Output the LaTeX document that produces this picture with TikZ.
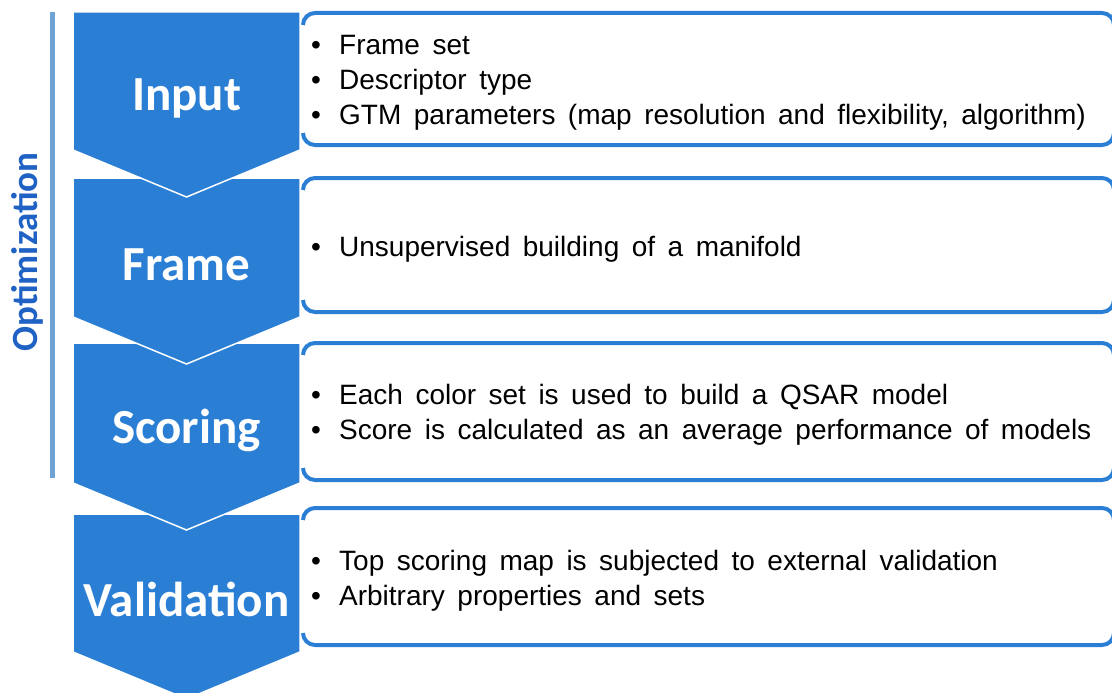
\documentclass[tikz,border=0pt]{standalone}
\usepackage{fontspec}
\setmainfont{Liberation Sans}
\newfontfamily\calibri{Carlito}
\usetikzlibrary{positioning}
\definecolor{chevblue}{HTML}{2A7FD5}
\definecolor{barblue}{HTML}{6FA3D6}
\definecolor{optblue}{HTML}{2062C4}
\newcommand{\itm}[1]{\makebox[28pt][l]{\textbullet}{\spaceskip=12.5pt\relax #1}}

\begin{document}
\begin{tikzpicture}[
            x = 1pt, y = -1pt, % one unit per pixel, y downwards
            chev/.style = {fill = chevblue, draw = white, line width = 1.5pt},
            boxline/.style = {draw = chevblue, line width = 4pt, rounded corners = 12pt},
            title/.style = {text = white, font = \calibri\bfseries\fontsize{49}{50}\selectfont},
            items/.style = {anchor = west, align = left, inner sep = 0pt,
                            font = \fontsize{28}{35}\selectfont}
        ]

        \useasboundingbox (0,0) rectangle (1112,693);

        % chevrons, drawn from the bottom up so each tip lies on the next one
        \path[chev] (73,514) -- (300,514) -- (300,652) -- (186.5,699) -- (73,652) -- cycle;
        \path[chev] (73,343) -- (300,343) -- (300,483) -- (186.5,530) -- (73,483) -- cycle;
        \path[chev] (73,178) -- (300,178) -- (300,317) -- (186.5,364) -- (73,317) -- cycle;
        \path[chev] (73,12) -- (300,12) -- (300,150) -- (186.5,197) -- (73,150) -- cycle;

        \node[title] (input) at (186.5,98) {Input};
        \node[title] (frame) at (186.5,265) {Frame};
        \node[title] (scoring) at (186.5,430) {Scoring};
        \node[title] (validation) at (186.5,599) {Validation};

        % text boxes: only top and bottom edges
        \draw[boxline] (303,25) -- (303,13) -- (1114,13) -- (1114,35);
        \draw[boxline] (303,133) -- (303,145) -- (1114,145) -- (1114,123);
        \draw[boxline] (303,190) -- (303,178) -- (1114,178) -- (1114,200);
        \draw[boxline] (303,300) -- (303,312) -- (1114,312) -- (1114,290);
        \draw[boxline] (303,355) -- (303,343) -- (1114,343) -- (1114,365);
        \draw[boxline] (303,468) -- (303,480) -- (1114,480) -- (1114,458);
        \draw[boxline] (303,520) -- (303,508) -- (1114,508) -- (1114,530);
        \draw[boxline] (303,633) -- (303,645) -- (1114,645) -- (1114,623);

        \node[items] (inputtext) at (311,83) {\itm{Frame set}\\
            \itm{Descriptor type}\\
            \itm{GTM parameters (map resolution and flexibility, algorithm)}};
        \node[items] (frametext) at (311,249) {\itm{Unsupervised building of a manifold}};
        \node[items] (scoringtext) at (311,415) {\itm{Each color set is used to build a QSAR model}\\
            \itm{Score is calculated as an average performance of models}};
        \node[items] (validationtext) at (311,581) {\itm{Top scoring map is subjected to external validation}\\
            \itm{Arbitrary properties and sets}};

        % optimization bracket
        \coordinate (bartop) at (52,12);
        \coordinate (barbottom) at (52,478);
        \draw[barblue, line width = 5pt] (bartop) -- (barbottom);
        \node[rotate = 90, text = optblue, font = \calibri\bfseries\fontsize{37}{40}\selectfont]
            (optimization) at (27,252) {Optimization};
    \end{tikzpicture}
\end{document}
